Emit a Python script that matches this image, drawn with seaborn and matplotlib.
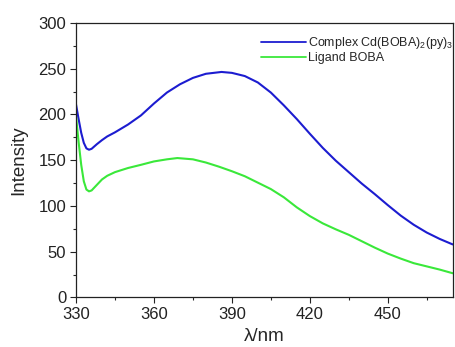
import matplotlib
matplotlib.use("Agg")
import matplotlib.pyplot as plt
import seaborn as sns
import pandas as pd
from matplotlib.ticker import MultipleLocator

wl_complex = [330, 331, 332, 333, 334, 335, 336, 338, 340, 342, 345, 350, 355, 360, 365, 370, 375, 380,
              386, 390, 395, 400, 405, 410, 415, 420, 425, 430, 435, 440, 445, 450, 455, 460, 465, 470, 475]
int_complex = [211, 195, 180, 169, 163, 161.5, 162.5, 167.5, 172, 176, 180.5, 189, 199, 212, 224, 233, 240,
               244.5, 246.5, 245.5, 242, 235, 224, 210, 195, 179, 163.5, 149.5, 137, 124.5, 113, 101, 89.5,
               79.5, 71, 64, 58]

wl_ligand = [330, 331, 332, 333, 334, 335, 336, 338, 340, 342, 345, 350, 355, 360, 365, 369, 375,
             380, 385, 390, 395, 400, 405, 410, 415, 420, 425, 430, 435, 440, 445, 450, 455, 460,
             465, 470, 475]
int_ligand = [198, 170, 145, 127, 118, 116, 117, 123, 129, 133, 137, 141.5, 145, 148.7, 151, 152.4, 151,
              147.5, 143, 138, 132.5, 125.5, 118.5, 109.5, 98.5, 89, 81, 74.5, 68.5, 61.5, 54.5, 48,
              42.5, 37.5, 34, 30.5, 26.5]

label_complex = "Complex Cd(BOBA)$_2$(py)$_3$"
label_ligand = "Ligand BOBA"

df = pd.concat([
    pd.DataFrame({"wl": wl_complex, "I": int_complex, "s": label_complex}),
    pd.DataFrame({"wl": wl_ligand, "I": int_ligand, "s": label_ligand}),
])

sns.set_style("ticks")
plt.rcParams["font.family"] = ["Liberation Sans", "DejaVu Sans"]
plt.rcParams["mathtext.fontset"] = "custom"
plt.rcParams["mathtext.rm"] = "Liberation Sans"

fig = plt.figure(figsize=(4.56, 3.47), dpi=100)
ax = fig.add_axes([0.1667, 0.1427, 0.826, 0.791])

sns.lineplot(data=df, x="wl", y="I", hue="s", palette=["#1c1cd0", "#3ae83a"],
             linewidth=1.5, ax=ax, sort=False, legend=True)

ax.set_xlim(330, 475)
ax.set_ylim(0, 300)
ax.xaxis.set_major_locator(MultipleLocator(30))
ax.xaxis.set_minor_locator(MultipleLocator(15))
ax.yaxis.set_major_locator(MultipleLocator(50))
ax.yaxis.set_minor_locator(MultipleLocator(25))
ax.tick_params(which="major", direction="out", length=4, width=0.8, labelsize=12, colors="#222222", pad=3)
ax.tick_params(which="minor", direction="out", length=2.5, width=0.8)
ax.tick_params(top=False, right=False, which="both")
for sp in ax.spines.values():
    sp.set_visible(True)
    sp.set_linewidth(0.9)
    sp.set_color("#222222")
ax.set_xlabel("λ/nm", fontsize=13.5, labelpad=4)
ax.set_ylabel("Intensity", fontsize=13.5, labelpad=8)

leg = ax.legend(loc="upper right", bbox_to_anchor=(1.005, 0.96), frameon=False, fontsize=9,
                handlelength=3.6, handletextpad=0.15, labelspacing=0.1, borderaxespad=0.0,
                borderpad=0.1, title=None)
for line in leg.get_lines():
    line.set_linewidth(1.3)

fig.savefig("out.png", dpi=100)
